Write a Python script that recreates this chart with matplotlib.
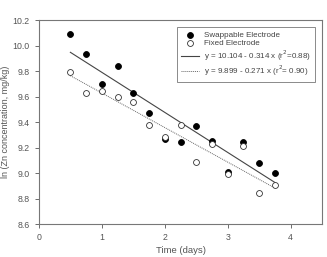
import numpy as np
import matplotlib
matplotlib.use("Agg")
import matplotlib.pyplot as plt

plt.rcParams['font.family'] = ['Liberation Sans', 'DejaVu Sans']

days = [0.5, 0.75, 1.0, 1.25, 1.5, 1.75, 2.0, 2.25, 2.5, 2.75, 3.0, 3.25, 3.5, 3.75]
swappable = [10.09, 9.93, 9.70, 9.84, 9.63, 9.47, 9.27, 9.24, 9.37, 9.25, 9.01, 9.24, 9.08, 9.00]
fixed = [9.79, 9.63, 9.64, 9.60, 9.56, 9.38, 9.28, 9.38, 9.09, 9.23, 8.99, 9.21, 8.84, 8.91]

# regression coefficients printed in the legend
swap_fit = (10.104, -0.314, 0.88)
fixed_fit = (9.899, -0.271, 0.90)

grey = '#555555'

fig = plt.figure(figsize=(3.27, 2.57), dpi=100)
ax = fig.add_axes([0.119, 0.128, 0.866, 0.794])

ax.scatter(days, swappable, s=18, c='black', edgecolors='black', linewidths=0.6,
           label='Swappable Electrode', zorder=3)
ax.scatter(days, fixed, s=18, facecolors='white', edgecolors='#333333', linewidths=0.6,
           label='Fixed Electrode', zorder=3)

xl = np.array([days[0], days[-1]])
ax.plot(xl, swap_fit[0] + swap_fit[1] * xl, color='#444444', lw=0.8,
        label='y = 10.104 - 0.314 x (r$^2$=0.88)')
ax.plot(xl, fixed_fit[0] + fixed_fit[1] * xl, color='#666666', lw=0.7, ls=(0, (1, 1)),
        label='y = 9.899 - 0.271 x (r$^2$= 0.90)')

ax.set_xlim(0, 4.5)
ax.set_ylim(8.6, 10.2)
ax.set_xticks([0, 1, 2, 3, 4])
ax.set_yticks(np.arange(8.6, 10.21, 0.2))
ax.set_yticklabels([f'{v:.1f}' for v in np.arange(8.6, 10.21, 0.2)])
ax.tick_params(labelsize=6.3, colors=grey, length=3, width=0.6)
for sp in ax.spines.values():
    sp.set_color('#777777')
    sp.set_linewidth(0.8)

ax.set_xlabel('Time (days)', fontsize=6.8, color=grey, labelpad=3)
ax.set_ylabel('ln (Zn concentration, mg/kg)', fontsize=6.5, color=grey, labelpad=2)

leg = ax.legend(loc='upper right', fontsize=5.8, frameon=True, fancybox=False,
                edgecolor='#555555', borderpad=0.5, handlelength=2.3,
                labelspacing=0.1, borderaxespad=0.9, handletextpad=0.6)
leg.get_frame().set_linewidth(0.6)
for t in leg.get_texts():
    t.set_color('#444444')

fig.savefig('out.png', dpi=100)
